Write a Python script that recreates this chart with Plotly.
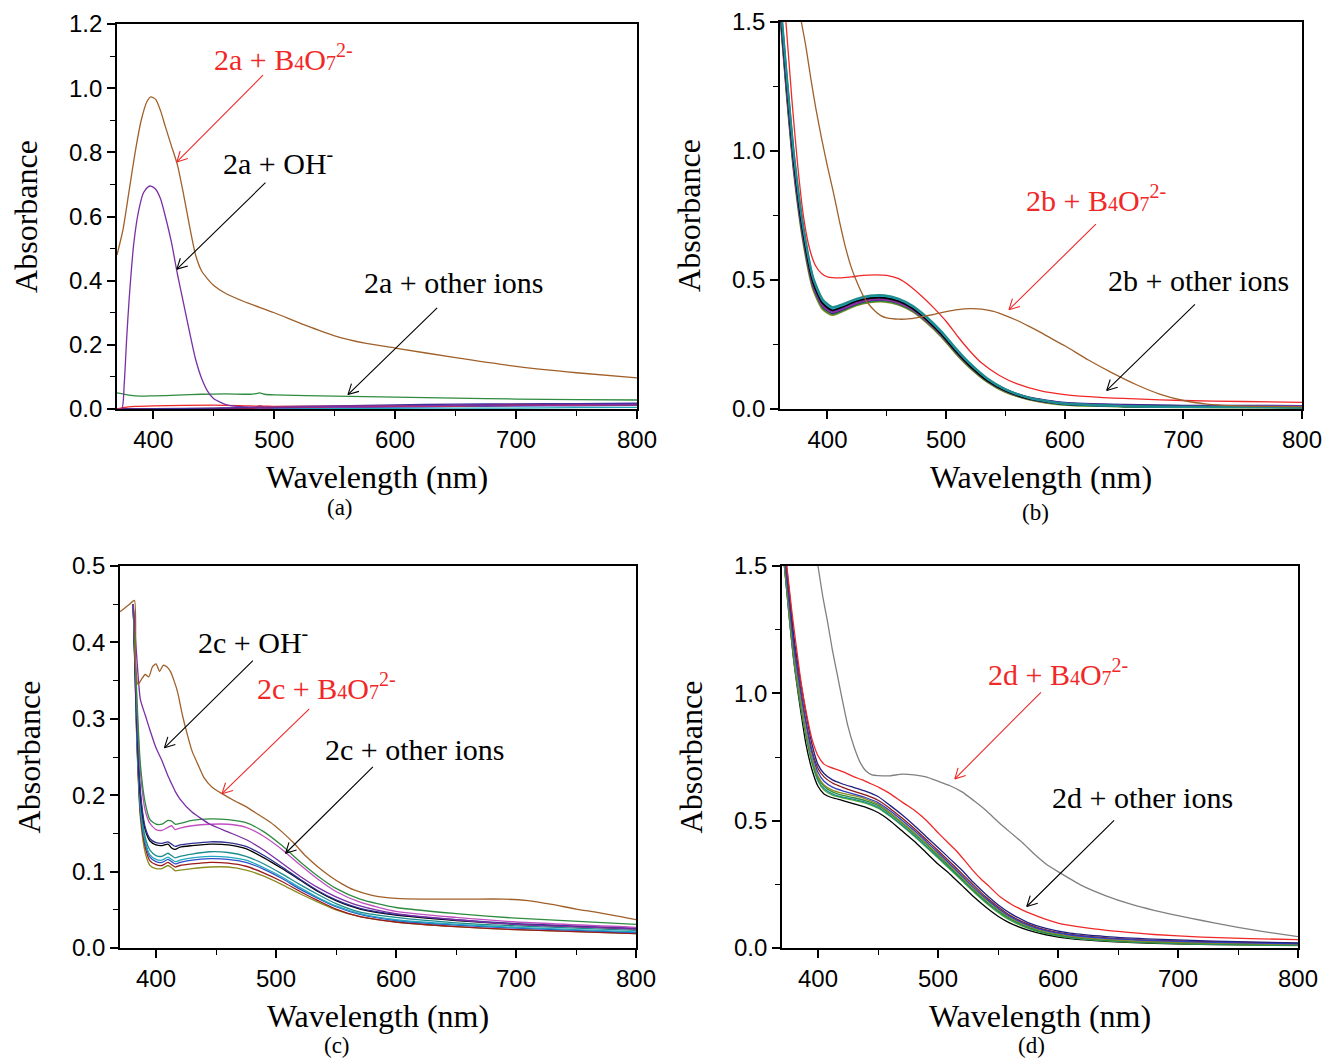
import math
import plotly.graph_objects as go
from plotly.subplots import make_subplots

# ---------------- Panel (a) ----------------
wl_a_borate = [370, 375, 380, 385, 390, 395, 398, 402, 406, 410, 415, 420, 425, 430, 435, 440, 445, 450, 460, 475, 500, 525, 550, 575, 600, 650, 700, 750, 800]
abs_a_borate = [0.48, 0.56, 0.68, 0.80, 0.90, 0.96, 0.973, 0.965, 0.93, 0.88, 0.82, 0.76, 0.67, 0.57, 0.48, 0.43, 0.405, 0.385, 0.36, 0.335, 0.30, 0.262, 0.228, 0.205, 0.19, 0.16, 0.133, 0.113, 0.097]

wl_a_oh = [370, 374, 376, 378, 380, 384, 388, 392, 396, 398, 402, 406, 410, 415, 420, 425, 430, 435, 440, 445, 450, 460, 470, 480, 500, 550, 600, 650, 700, 750, 800]
abs_a_oh = [0.0, 0.0, 0.08, 0.22, 0.34, 0.52, 0.62, 0.675, 0.693, 0.695, 0.685, 0.655, 0.6, 0.52, 0.42, 0.33, 0.24, 0.155, 0.095, 0.055, 0.032, 0.014, 0.008, 0.006, 0.006, 0.008, 0.010, 0.011, 0.012, 0.013, 0.014]

wl_a_green = [370, 380, 390, 400, 420, 440, 460, 480, 485, 488, 492, 500, 550, 600, 650, 700, 750, 800]
abs_a_green = [0.05, 0.043, 0.04, 0.041, 0.043, 0.046, 0.047, 0.046, 0.048, 0.05, 0.046, 0.044, 0.04, 0.037, 0.034, 0.031, 0.029, 0.028]

wl_a_low = [370, 375, 385, 400, 450, 475, 485, 488, 492, 500, 550, 600, 650, 700, 750, 800]
abs_a_red = [0.0, 0.004, 0.008, 0.010, 0.012, 0.010, 0.009, 0.009, 0.009, 0.008, 0.008, 0.009, 0.010, 0.011, 0.012, 0.013]
abs_a_navy = [0.0, 0.0, 0.0, 0.001, 0.003, 0.004, 0.006, 0.010, 0.006, 0.007, 0.010, 0.013, 0.015, 0.016, 0.017, 0.018]
abs_a_maroon = [0.0, 0.0, 0.0, 0.0, 0.002, 0.003, 0.004, 0.005, 0.004, 0.005, 0.008, 0.010, 0.012, 0.014, 0.015, 0.016]
abs_a_magenta = [0.0, 0.0, 0.0, 0.0, 0.001, 0.002, 0.003, 0.004, 0.003, 0.004, 0.006, 0.008, 0.010, 0.012, 0.014, 0.015]
abs_a_blue = [0.0, 0.0, 0.0, 0.0, 0.001, 0.002, 0.002, 0.003, 0.002, 0.003, 0.005, 0.006, 0.008, 0.009, 0.010, 0.011]
abs_a_cyan = [0.0, 0.0, 0.0, 0.0, 0.0, 0.0, 0.001, 0.001, 0.001, 0.001, 0.001, 0.002, 0.003, 0.003, 0.004, 0.005]

# ---------------- Panel (b) ----------------
wl_b_borate = [378, 382, 386, 390, 395, 400, 405, 410, 415, 420, 425, 430, 435, 440, 445, 450, 460, 470, 480, 490, 500, 510, 520, 530, 540, 550, 560, 570, 580, 590, 600, 620, 640, 660, 680, 700, 720, 740, 770, 800]
abs_b_borate = [1.5, 1.4, 1.28, 1.17, 1.05, 0.94, 0.84, 0.73, 0.63, 0.55, 0.49, 0.44, 0.405, 0.38, 0.362, 0.353, 0.348, 0.35, 0.358, 0.367, 0.377, 0.385, 0.389, 0.387, 0.378, 0.362, 0.343, 0.32, 0.296, 0.27, 0.245, 0.19, 0.14, 0.095, 0.058, 0.033, 0.019, 0.013, 0.01, 0.009]

wl_b_red = [365, 370, 375, 380, 385, 390, 395, 400, 410, 420, 430, 440, 450, 460, 470, 480, 490, 500, 510, 520, 530, 545, 560, 580, 600, 630, 660, 700, 750, 800]
abs_b_red = [1.5, 1.2, 0.94, 0.74, 0.62, 0.555, 0.525, 0.512, 0.508, 0.512, 0.518, 0.52, 0.518, 0.505, 0.475, 0.435, 0.39, 0.34, 0.28, 0.225, 0.178, 0.13, 0.097, 0.07, 0.056, 0.045, 0.039, 0.033, 0.029, 0.026]

wl_b_ions = [361, 366, 372, 380, 388, 396, 404, 412, 424, 436, 448, 460, 472, 484, 496, 508, 520, 535, 550, 570, 600, 650, 700, 800]
abs_b_black = [1.52, 1.25, 0.95, 0.67, 0.49, 0.41, 0.383, 0.395, 0.418, 0.43, 0.431, 0.418, 0.39, 0.345, 0.29, 0.225, 0.168, 0.11, 0.071, 0.04, 0.019, 0.011, 0.009, 0.007]
abs_b_teal = [1.55, 1.28, 0.98, 0.70, 0.51, 0.425, 0.395, 0.405, 0.427, 0.44, 0.441, 0.428, 0.4, 0.356, 0.302, 0.237, 0.178, 0.118, 0.077, 0.044, 0.021, 0.012, 0.009, 0.007]
abs_b_cyan = [1.54, 1.27, 0.97, 0.69, 0.505, 0.42, 0.39, 0.401, 0.424, 0.437, 0.438, 0.425, 0.397, 0.352, 0.298, 0.233, 0.175, 0.116, 0.075, 0.043, 0.02, 0.011, 0.008, 0.006]
abs_b_blue = [1.53, 1.26, 0.96, 0.68, 0.5, 0.415, 0.387, 0.398, 0.421, 0.434, 0.435, 0.422, 0.394, 0.349, 0.295, 0.23, 0.172, 0.114, 0.074, 0.042, 0.02, 0.012, 0.01, 0.009]
abs_b_purple = [1.51, 1.24, 0.94, 0.665, 0.485, 0.405, 0.378, 0.39, 0.413, 0.426, 0.427, 0.415, 0.388, 0.344, 0.291, 0.228, 0.171, 0.113, 0.074, 0.043, 0.022, 0.014, 0.012, 0.011]
abs_b_magenta = [1.5, 1.23, 0.93, 0.66, 0.48, 0.4, 0.375, 0.387, 0.41, 0.423, 0.424, 0.412, 0.385, 0.34, 0.287, 0.223, 0.167, 0.109, 0.07, 0.04, 0.02, 0.012, 0.01, 0.009]
abs_b_navy = [1.5, 1.22, 0.925, 0.655, 0.478, 0.398, 0.372, 0.384, 0.408, 0.421, 0.423, 0.411, 0.385, 0.342, 0.29, 0.228, 0.173, 0.115, 0.076, 0.045, 0.024, 0.016, 0.013, 0.012]
abs_b_green = [1.49, 1.21, 0.915, 0.645, 0.47, 0.392, 0.368, 0.38, 0.404, 0.417, 0.419, 0.407, 0.38, 0.336, 0.283, 0.219, 0.163, 0.106, 0.068, 0.038, 0.017, 0.01, 0.008, 0.006]
abs_b_olive = [1.48, 1.2, 0.905, 0.635, 0.462, 0.386, 0.364, 0.377, 0.401, 0.414, 0.416, 0.404, 0.377, 0.333, 0.28, 0.216, 0.16, 0.104, 0.066, 0.037, 0.016, 0.009, 0.007, 0.005]

# ---------------- Panel (c) ----------------
wl_c_borate = [370, 374, 378, 382, 383, 385, 388, 391, 394, 397, 400, 403, 406, 409, 412, 415, 418, 422, 426, 430, 435, 440, 447, 455, 465, 475, 485, 495, 505, 515, 525, 535, 545, 555, 565, 580, 600, 630, 660, 690, 710, 730, 750, 770, 790, 800]
abs_c_borate = [0.44, 0.445, 0.45, 0.455, 0.37, 0.345, 0.352, 0.358, 0.355, 0.368, 0.372, 0.362, 0.37, 0.368, 0.362, 0.35, 0.335, 0.305, 0.28, 0.258, 0.24, 0.223, 0.21, 0.202, 0.193, 0.185, 0.175, 0.165, 0.152, 0.137, 0.12, 0.106, 0.094, 0.084, 0.076, 0.069, 0.065, 0.064, 0.064, 0.064, 0.062, 0.057, 0.051, 0.046, 0.04, 0.037]

wl_c_ions = [381, 384, 387, 391, 395, 400, 405, 410, 413, 416, 420, 430, 445, 460, 475, 490, 505, 520, 535, 550, 570, 600, 650, 700, 800]
abs_c_green = [0.45, 0.33, 0.24, 0.19, 0.168, 0.162, 0.162, 0.167, 0.166, 0.162, 0.163, 0.167, 0.169, 0.168, 0.164, 0.152, 0.134, 0.113, 0.094, 0.078, 0.064, 0.053, 0.045, 0.039, 0.031]
abs_c_pink = [0.45, 0.32, 0.23, 0.18, 0.163, 0.155, 0.154, 0.158, 0.16, 0.155, 0.157, 0.16, 0.162, 0.162, 0.158, 0.146, 0.129, 0.109, 0.09, 0.074, 0.06, 0.048, 0.04, 0.034, 0.027]
abs_c_oh = [0.45, 0.38, 0.325, 0.305, 0.285, 0.262, 0.245, 0.225, 0.215, 0.205, 0.195, 0.178, 0.162, 0.152, 0.142, 0.128, 0.111, 0.094, 0.079, 0.067, 0.055, 0.045, 0.037, 0.031, 0.025]
abs_c_navy = [0.45, 0.3, 0.205, 0.158, 0.143, 0.138, 0.137, 0.139, 0.136, 0.133, 0.135, 0.137, 0.139, 0.138, 0.133, 0.121, 0.106, 0.09, 0.075, 0.063, 0.052, 0.044, 0.037, 0.032, 0.026]
abs_c_black = [0.45, 0.3, 0.2, 0.155, 0.14, 0.135, 0.134, 0.136, 0.131, 0.129, 0.132, 0.134, 0.136, 0.135, 0.13, 0.118, 0.104, 0.089, 0.074, 0.062, 0.051, 0.043, 0.036, 0.031, 0.025]
abs_c_teal = [0.45, 0.29, 0.19, 0.145, 0.128, 0.121, 0.12, 0.124, 0.121, 0.118, 0.12, 0.123, 0.126, 0.125, 0.12, 0.11, 0.097, 0.083, 0.07, 0.058, 0.047, 0.04, 0.033, 0.029, 0.023]
abs_c_cyan = [0.45, 0.285, 0.185, 0.14, 0.122, 0.116, 0.115, 0.119, 0.116, 0.113, 0.115, 0.118, 0.12, 0.119, 0.115, 0.105, 0.093, 0.079, 0.066, 0.055, 0.045, 0.037, 0.031, 0.027, 0.021]
abs_c_blue = [0.45, 0.28, 0.18, 0.137, 0.119, 0.113, 0.112, 0.116, 0.113, 0.11, 0.112, 0.115, 0.117, 0.116, 0.112, 0.103, 0.091, 0.077, 0.065, 0.054, 0.044, 0.036, 0.03, 0.026, 0.02]
abs_c_darkred = [0.45, 0.275, 0.175, 0.132, 0.114, 0.109, 0.108, 0.112, 0.109, 0.106, 0.108, 0.11, 0.112, 0.111, 0.107, 0.098, 0.087, 0.074, 0.062, 0.051, 0.041, 0.034, 0.028, 0.024, 0.019]
abs_c_olive = [0.45, 0.27, 0.17, 0.125, 0.108, 0.104, 0.104, 0.108, 0.105, 0.101, 0.102, 0.104, 0.106, 0.106, 0.102, 0.094, 0.083, 0.071, 0.06, 0.05, 0.041, 0.034, 0.028, 0.024, 0.019]

# ---------------- Panel (d) ----------------
wl_d_borate = [400, 404, 408, 412, 416, 420, 425, 430, 435, 440, 445, 450, 460, 470, 480, 490, 500, 510, 520, 530, 540, 550, 560, 570, 580, 590, 600, 620, 640, 660, 680, 700, 720, 740, 760, 780, 800]
abs_d_borate = [1.5, 1.38, 1.28, 1.17, 1.075, 0.98, 0.87, 0.79, 0.73, 0.695, 0.68, 0.677, 0.676, 0.683, 0.68, 0.672, 0.655, 0.637, 0.613, 0.578, 0.54, 0.496, 0.455, 0.415, 0.37, 0.33, 0.3, 0.245, 0.205, 0.173, 0.148, 0.127, 0.108, 0.09, 0.073, 0.058, 0.045]

wl_d_red = [374, 378, 382, 386, 390, 395, 400, 405, 410, 416, 423, 430, 437, 444, 451, 458, 465, 472, 480, 487, 494, 501, 508, 515, 522, 529, 536, 543, 552, 561, 570, 580, 590, 600, 615, 630, 650, 680, 720, 760, 800]
abs_d_red = [1.5, 1.33, 1.18, 1.04, 0.93, 0.82, 0.755, 0.722, 0.71, 0.7, 0.688, 0.672, 0.66, 0.645, 0.63, 0.612, 0.59, 0.567, 0.542, 0.515, 0.483, 0.448, 0.415, 0.383, 0.345, 0.305, 0.27, 0.24, 0.2, 0.172, 0.15, 0.13, 0.112, 0.098, 0.085, 0.075, 0.065, 0.053, 0.043, 0.037, 0.033]

wl_d_ions = [372, 376, 380, 385, 390, 395, 400, 405, 412, 420, 430, 440, 450, 460, 470, 480, 490, 500, 510, 520, 530, 540, 550, 560, 575, 590, 610, 640, 680, 730, 800]
abs_d_navy = [1.58, 1.4, 1.22, 1.06, 0.92, 0.8, 0.72, 0.685, 0.66, 0.645, 0.63, 0.615, 0.595, 0.56, 0.523, 0.482, 0.438, 0.395, 0.35, 0.305, 0.255, 0.21, 0.17, 0.137, 0.1, 0.077, 0.058, 0.045, 0.035, 0.027, 0.02]
abs_d_blue = [1.54, 1.36, 1.18, 1.02, 0.88, 0.765, 0.69, 0.655, 0.632, 0.618, 0.604, 0.59, 0.571, 0.539, 0.502, 0.462, 0.419, 0.375, 0.33, 0.284, 0.237, 0.194, 0.156, 0.124, 0.09, 0.068, 0.051, 0.038, 0.029, 0.022, 0.016]
abs_d_maroon = [1.55, 1.37, 1.19, 1.03, 0.89, 0.775, 0.705, 0.672, 0.648, 0.632, 0.615, 0.6, 0.58, 0.548, 0.51, 0.47, 0.427, 0.383, 0.338, 0.292, 0.245, 0.2, 0.162, 0.128, 0.094, 0.071, 0.053, 0.04, 0.03, 0.024, 0.018]
abs_d_olive = [1.52, 1.33, 1.15, 0.99, 0.85, 0.745, 0.675, 0.64, 0.62, 0.608, 0.598, 0.585, 0.565, 0.532, 0.494, 0.455, 0.412, 0.368, 0.324, 0.278, 0.232, 0.19, 0.152, 0.12, 0.086, 0.064, 0.047, 0.034, 0.025, 0.019, 0.014]
abs_d_green = [1.51, 1.32, 1.14, 0.98, 0.845, 0.74, 0.67, 0.635, 0.613, 0.6, 0.59, 0.578, 0.56, 0.527, 0.49, 0.45, 0.407, 0.363, 0.318, 0.272, 0.226, 0.184, 0.147, 0.116, 0.082, 0.06, 0.044, 0.031, 0.022, 0.016, 0.011]
abs_d_teal = [1.5, 1.31, 1.13, 0.97, 0.835, 0.73, 0.66, 0.626, 0.605, 0.593, 0.584, 0.572, 0.553, 0.52, 0.483, 0.443, 0.4, 0.357, 0.313, 0.268, 0.223, 0.181, 0.144, 0.113, 0.08, 0.058, 0.042, 0.03, 0.021, 0.015, 0.01]
abs_d_lime = [1.5, 1.3, 1.125, 0.965, 0.83, 0.725, 0.655, 0.62, 0.6, 0.59, 0.58, 0.568, 0.549, 0.517, 0.48, 0.44, 0.397, 0.353, 0.309, 0.264, 0.219, 0.177, 0.14, 0.109, 0.077, 0.056, 0.04, 0.028, 0.02, 0.014, 0.009]
abs_d_black = [1.5, 1.3, 1.12, 0.95, 0.8, 0.7, 0.635, 0.605, 0.59, 0.58, 0.566, 0.552, 0.532, 0.5, 0.46, 0.42, 0.375, 0.33, 0.29, 0.245, 0.2, 0.16, 0.125, 0.098, 0.07, 0.052, 0.037, 0.026, 0.018, 0.013, 0.01]

# axis ranges / tick labels
x_range_a = [370, 800]
x_range_b = [360, 800]
x_range_c = [370, 800]
x_range_d = [370, 800]
y_range_a = [0, 1.2]
y_range_b = [0, 1.5]
y_range_c = [0, 0.5]
y_range_d = [0, 1.5]
panel_labels = ["(a)", "(b)", "(c)", "(d)"]

BROWN = "#A0602A"
RED = "#F02828"
SANS = "Liberation Sans, Arial, sans-serif"
SERIF = "Liberation Serif, Times New Roman, serif"

fig = make_subplots(rows=2, cols=2)


def add(x, y, color, row, col, width=1.3):
    fig.add_trace(go.Scatter(x=x, y=y, mode="lines", line=dict(color=color, width=width, shape="spline", smoothing=0.6),
                             showlegend=False, hoverinfo="skip"), row=row, col=col)


# (a)
for ys, c in [(abs_a_cyan, "#20A8B8"), (abs_a_blue, "#3050C8"), (abs_a_magenta, "#B0309A"),
              (abs_a_maroon, "#8B1A3A"), (abs_a_navy, "#4030A0"), (abs_a_red, RED)]:
    add(wl_a_low, ys, c, 1, 1)
add(wl_a_green, abs_a_green, "#2E8B40", 1, 1)
add(wl_a_oh, abs_a_oh, "#7B2FA5", 1, 1)
add(wl_a_borate, abs_a_borate, BROWN, 1, 1)

# (b)
for ys, c in [(abs_b_olive, "#8B8B20"), (abs_b_green, "#2E8B40"), (abs_b_navy, "#202080"),
              (abs_b_magenta, "#B030A0"), (abs_b_purple, "#7B2FA5"), (abs_b_blue, "#3050C8"),
              (abs_b_black, "#000000"), (abs_b_cyan, "#20A8C0"), (abs_b_teal, "#1E8C8C")]:
    add(wl_b_ions, ys, c, 1, 2, 2.0)
add(wl_b_red, abs_b_red, RED, 1, 2)
add(wl_b_borate, abs_b_borate, BROWN, 1, 2)

# (c)
for ys, c in [(abs_c_olive, "#8B8B20"), (abs_c_darkred, "#9A1A1A"), (abs_c_blue, "#3050C8"),
              (abs_c_cyan, "#20A8C0"), (abs_c_teal, "#1E8C8C"), (abs_c_black, "#000000"),
              (abs_c_navy, "#303090"), (abs_c_pink, "#C050C0"), (abs_c_green, "#2E8B40")]:
    add(wl_c_ions, ys, c, 2, 1)
add(wl_c_ions, abs_c_oh, "#7B2FA5", 2, 1)
add(wl_c_borate, abs_c_borate, BROWN, 2, 1)

# (d)
for ys, c in [(abs_d_black, "#000000"), (abs_d_lime, "#50B030"), (abs_d_teal, "#1E8C8C"),
              (abs_d_green, "#2E8B40"), (abs_d_olive, "#8B8B20"), (abs_d_maroon, "#8B1A1A"),
              (abs_d_blue, "#3040C0"), (abs_d_navy, "#202080")]:
    add(wl_d_ions, ys, c, 2, 2)
add(wl_d_red, abs_d_red, RED, 2, 2)
add(wl_d_borate, abs_d_borate, "#808080", 2, 2)

W, H = 1323, 1061
boxes = {  # pixel boxes: left, right, top, bottom
    (1, 1): (117, 637, 24, 409),
    (1, 2): (780, 1302, 22, 409),
    (2, 1): (120, 636, 566, 948),
    (2, 2): (782, 1298, 566, 948),
}
xr = {(1, 1): x_range_a, (1, 2): x_range_b, (2, 1): x_range_c, (2, 2): x_range_d}
yr = {(1, 1): (y_range_a, 0.2, 0.1), (1, 2): (y_range_b, 0.5, 0.25),
      (2, 1): (y_range_c, 0.1, 0.05), (2, 2): (y_range_d, 0.5, 0.25)}

for (r, c), (l, rr, t, b) in boxes.items():
    fig.update_xaxes(row=r, col=c, domain=[l / W, rr / W], range=xr[(r, c)], dtick=100, tick0=0,
                     automargin=False,
                     ticks="outside", ticklen=8, tickwidth=1.5, tickcolor="black",
                     minor=dict(dtick=50, tick0=0, ticks="outside", ticklen=5, tickwidth=1.2, tickcolor="black"),
                     showline=True, linecolor="black", linewidth=1.6, mirror=True, showgrid=False, zeroline=False,
                     tickfont=dict(family=SANS, size=24, color="black"),
                     title=dict(text="Wavelength (nm)", font=dict(family=SERIF, size=32, color="black"), standoff=14))
    yrange, dt, mdt = yr[(r, c)]
    fig.update_yaxes(row=r, col=c, domain=[1 - b / H, 1 - t / H], range=yrange, dtick=dt, tick0=0,
                     automargin=False, tickformat=".1f",
                     ticks="outside", ticklen=8, tickwidth=1.5, tickcolor="black",
                     minor=dict(dtick=mdt, tick0=0, ticks="outside", ticklen=5, tickwidth=1.2, tickcolor="black"),
                     showline=True, linecolor="black", linewidth=1.6, mirror=True, showgrid=False, zeroline=False,
                     tickfont=dict(family=SANS, size=24, color="black"),
                     title=dict(text="Absorbance", font=dict(family=SERIF, size=32, color="black"), standoff=22))

SUB = '<span style="font-size:20px">%s</span>'
B4O7 = 'B' + SUB % '4' + 'O' + SUB % '7' + '<sup><span style="font-size:20px">2-</span></sup>'
OH = 'OH<sup><span style="font-size:20px">-</span></sup>'

texts = [
    # (text, x, y, xref, color)
    ("2a + " + B4O7, 508, 1.095, "x", RED),
    ("2a + " + OH, 503, 0.772, "x", "black"),
    ("2a + other ions", 648, 0.395, "x", "black"),
    ("2b + " + B4O7, 626, 0.815, "x2", RED),
    ("2b + other ions", 713, 0.5, "x2", "black"),
    ("2c + " + OH, 481, 0.402, "x3", "black"),
    ("2c + " + B4O7, 542, 0.342, "x3", RED),
    ("2c + other ions", 615, 0.26, "x3", "black"),
    ("2d + " + B4O7, 600, 1.08, "x4", RED),
    ("2d + other ions", 670, 0.59, "x4", "black"),
]
for txt, x, y, xref, col in texts:
    yref = "y" + xref[1:]
    fig.add_annotation(text=txt, x=x, y=y, xref=xref, yref=yref, showarrow=False,
                       font=dict(family=SERIF, size=30, color=col), xanchor="center", yanchor="middle")

arrows = [
    # (tip x, tip y, start x, start y, xref, color)
    (419.5, 0.77, 492, 1.045, "x", RED),
    (419.5, 0.436, 494, 0.71, "x", "black"),
    (561, 0.045, 636, 0.32, "x", "black"),
    (553, 0.385, 627.5, 0.722, "x2", RED),
    (635.4, 0.072, 711, 0.411, "x2", "black"),
    (407, 0.262, 482, 0.378, "x3", "black"),
    (455, 0.202, 529, 0.315, "x3", RED),
    (508, 0.124, 582, 0.239, "x3", "black"),
    (514, 0.664, 587, 1.01, "x4", RED),
    (574, 0.163, 648, 0.507, "x4", "black"),
]
ref_to_panel = {"x": (1, 1), "x2": (1, 2), "x3": (2, 1), "x4": (2, 2)}
HEAD_LEN = 13
HEAD_ANG = math.radians(28)
for tx, ty, sx, sy, xref, col in arrows:
    yref = "y" + xref[1:]
    key = ref_to_panel[xref]
    l, rr, t, b = boxes[key]
    kx = (rr - l) / (xr[key][1] - xr[key][0])
    ky = (b - t) / (yr[key][0][1] - yr[key][0][0])
    # shaft (line only)
    fig.add_annotation(x=tx, y=ty, ax=sx, ay=sy, xref=xref, yref=yref, axref=xref, ayref=yref,
                       text="", showarrow=True, arrowhead=0, arrowwidth=1.1, arrowcolor=col)
    # open V head built from two short strokes
    vx, vy = (sx - tx) * kx, -(sy - ty) * ky
    n = math.hypot(vx, vy)
    ux, uy = vx / n, vy / n
    for s in (1, -1):
        ca, sa = math.cos(s * HEAD_ANG), math.sin(s * HEAD_ANG)
        wx = (ux * ca - uy * sa) * HEAD_LEN
        wy = (ux * sa + uy * ca) * HEAD_LEN
        fig.add_annotation(x=tx, y=ty, ax=wx, ay=wy, xref=xref, yref=yref,
                           text="", showarrow=True, arrowhead=0, arrowwidth=1.1, arrowcolor=col)

label_pos = [(340, 508), (1035, 512), (337, 1045), (1031, 1045)]
for lab, (px, py) in zip(panel_labels, label_pos):
    fig.add_annotation(text=lab, x=px / W, y=1 - py / H, xref="paper", yref="paper", showarrow=False,
                       font=dict(family=SERIF, size=23, color="black"), xanchor="center", yanchor="middle")

fig.update_layout(width=W, height=H, margin=dict(l=0, r=0, t=0, b=0, autoexpand=False),
                  paper_bgcolor="white", plot_bgcolor="white", showlegend=False)

fig.write_html("out.html", config={"displayModeBar": False},
               post_script="document.body.style.margin='0px';")
